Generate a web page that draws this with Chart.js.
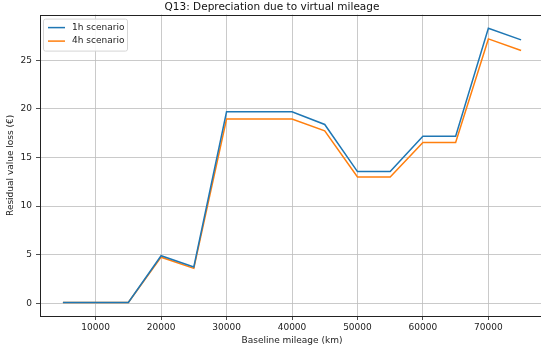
<!DOCTYPE html>
<html>
<head>
<meta charset="utf-8">
<script src="https://cdn.jsdelivr.net/npm/chart.js@4/dist/chart.umd.min.js"></script>
<style>
  html, body { margin:0; padding:0; background:#fff; overflow:hidden; }
  #wrap { width:544px; height:352px; position:relative; }
</style>
</head>
<body>
<div id="wrap"><canvas id="c"></canvas></div>
<script>
// data
const mileage     = [5000,10000,15000,20000,25000,30000,35000,40000,45000,50000,55000,60000,65000,70000,75000];
const loss1h      = [0.1,0.1,0.1,4.9,3.75,19.7,19.7,19.7,18.4,13.55,13.55,17.2,17.2,28.3,27.1];
const loss4h      = [0.1,0.1,0.1,4.75,3.6,18.95,18.95,18.95,17.75,13.0,13.0,16.55,16.55,27.2,26.0];
const xTicks      = [10000,20000,30000,40000,50000,60000,70000];
const yTicks      = [0,5,10,15,20,25];
const seriesNames = ['1h scenario','4h scenario'];
const seriesCols  = ['#1f77b4','#ff7f0e'];

const FONT = 'DejaVu Sans';
const pts = arr => mileage.map((m,i)=>({x:m, y:arr[i]}));

// frame around the plot + legend box in the upper left
const framePlugin = {
  id:'frame',
  afterDraw(chart) {
    const {ctx, chartArea:a} = chart;
    ctx.save();
    ctx.strokeStyle = '#222';
    ctx.lineWidth = 1;
    ctx.strokeRect(Math.round(a.left)+0.5, Math.round(a.top)+0.5, Math.round(a.right-a.left), Math.round(a.bottom-a.top));

    // legend
    const lx = a.left + 3, ly = a.top + 4, lw = 84, lh = 32;
    ctx.fillStyle = 'rgba(255,255,255,0.85)';
    ctx.strokeStyle = '#d6d6d6';
    ctx.beginPath();
    ctx.roundRect(lx+0.5, ly+0.5, lw, lh, 2);
    ctx.fill(); ctx.stroke();
    ctx.font = '9px "' + FONT + '"';
    ctx.textBaseline = 'middle';
    seriesNames.forEach((n,i) => {
      const yy = ly + 9 + i*13.5;
      ctx.strokeStyle = seriesCols[i];
      ctx.lineWidth = 1.5;
      ctx.beginPath(); ctx.moveTo(lx+5, yy); ctx.lineTo(lx+22, yy); ctx.stroke();
      ctx.fillStyle = '#222';
      ctx.fillText(n, lx+29, yy);
    });
    ctx.restore();
  }
};

new Chart(document.getElementById('c'), {
  type:'line',
  data:{ datasets: seriesNames.map((n,i)=>({
    label:n,
    data: pts(i===0 ? loss1h : loss4h),
    borderColor:seriesCols[i], backgroundColor:seriesCols[i],
    borderWidth:1.5, pointRadius:0, tension:0, fill:false
  })) },
  options:{
    responsive:true, maintainAspectRatio:false, animation:false,
    layout:{ padding:{left:0,right:0,top:0,bottom:0} },
    plugins:{
      legend:{display:false},
      tooltip:{enabled:false},
      title:{display:true, text:'Q13: Depreciation due to virtual mileage',
        color:'#111', font:{family:FONT, size:10.5, weight:'normal'}, padding:{top:1,bottom:1}}
    },
    scales:{
      x:{ type:'linear', min:1500, max:78500,
        afterBuildTicks: s => { s.ticks = xTicks.map(v=>({value:v})); },
        afterFit: s => { s.height = 36; },
        grid:{ color:'#bdbdbd', lineWidth:0.8, tickLength:4, tickColor:'#222' },
        border:{display:false},
        ticks:{ color:'#222', font:{family:FONT, size:9}, padding:2, maxRotation:0,
          callback: v => String(v) },
        title:{ display:true, text:'Baseline mileage (km)', color:'#222',
          font:{family:FONT, size:9}, padding:{top:0,bottom:6} }
      },
      y:{ min:-1.3, max:29.7,
        afterBuildTicks: s => { s.ticks = yTicks.map(v=>({value:v})); },
        afterFit: s => { s.width = 40; },
        grid:{ color:'#bdbdbd', lineWidth:0.8, tickLength:4, tickColor:'#222' },
        border:{display:false},
        ticks:{ color:'#222', font:{family:FONT, size:9}, padding:4, callback: v => String(v) },
        title:{ display:true, text:'Residual value loss (€)', color:'#222',
          font:{family:FONT, size:9}, padding:{top:5,bottom:0} }
      }
    }
  },
  plugins:[framePlugin]
});
</script>
</body>
</html>
